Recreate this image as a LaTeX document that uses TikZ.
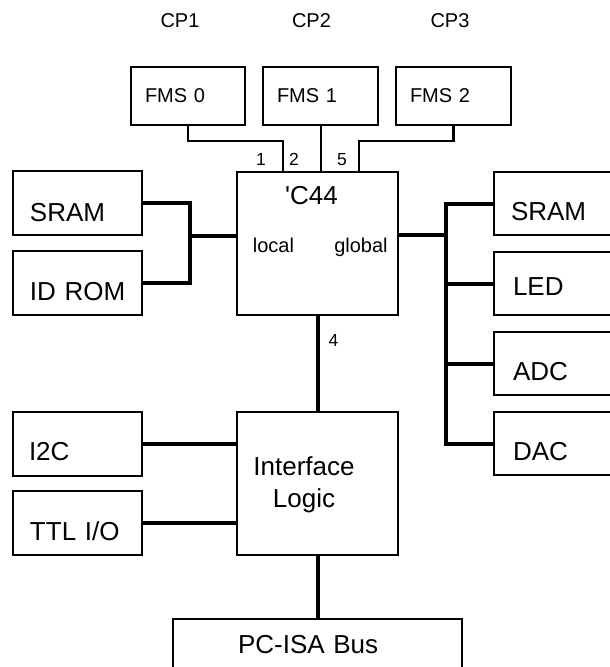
\documentclass[tikz,border=0pt]{standalone}
\usepackage{fontspec}
\setmainfont{Liberation Sans}
\begin{document}
\begin{tikzpicture}[x=1pt,y=-1pt,
  blk/.style={draw, line width=2pt, rectangle, anchor=north west, outer sep=0pt, inner ysep=0pt, text depth=0pt, align=left},
  big/.style={font=\fontsize{26}{32}\selectfont},
  small/.style={font=\fontsize{20}{24}\selectfont},
  tiny/.style={font=\fontsize{17.5}{21}\selectfont},
  bus/.style={line width=4pt},
  link/.style={line width=2.5pt},
  thinlink/.style={line width=2pt}]
\useasboundingbox (0,0) rectangle (610,667);
\clip (0,0) rectangle (610,667);

% top labels
\node[small,anchor=base] (cp1) at (180,27) {CP1};
\node[small,anchor=base] (cp2) at (311.5,27) {CP2};
\node[small,anchor=base] (cp3) at (450,27) {CP3};

% FMS boxes
\node[blk,small,minimum width=114pt,minimum height=58pt,inner xsep=14pt,text width=86pt,text height=12pt] (f0) at (131,67) {\mbox{FMS 0}};
\node[blk,small,minimum width=115pt,minimum height=58pt,inner xsep=14pt,text width=87pt,text height=12pt] (f1) at (263,67) {\mbox{FMS 1}};
\node[blk,small,minimum width=115pt,minimum height=58pt,inner xsep=14pt,text width=87pt,text height=12pt] (f2) at (396,67) {\mbox{FMS 2}};

% central boxes
\node[blk,minimum width=161pt,minimum height=143pt] (c44) at (237,172) {};
\node[blk,minimum width=161pt,minimum height=143pt] (iface) at (237,412) {};
\node[blk,big,minimum width=289pt,minimum height=50pt,inner xsep=65pt,text width=159pt,text height=18pt] (pcisa) at (173,619) {\mbox{PC-ISA Bus}};

% texts inside central boxes
\node[big,anchor=base] (c44t) at (311.5,204) {\textquotesingle C44};
\node[small,anchor=base] (loc) at (273.5,252) {local};
\node[small,anchor=base] (glob) at (361,252) {global};
\node[big,align=center] (ift) at (304,485) {Interface\\Logic};

% left boxes
\node[blk,big,minimum width=129pt,minimum height=64pt,inner xsep=17pt,text width=95pt,text height=36pt] (sraml) at (13,171) {\mbox{SRAM}};
\node[blk,big,minimum width=129pt,minimum height=64pt,inner xsep=17pt,text width=95pt,text height=34pt] (idrom) at (13,251) {\mbox{ID ROM}};
\node[blk,big,minimum width=129pt,minimum height=64pt,inner xsep=16pt,text width=97pt,text height=32pt] (i2c) at (13,412) {\mbox{I2C}};
\node[blk,big,minimum width=129pt,minimum height=64pt,inner xsep=17pt,text width=95pt,text height=34pt] (ttl) at (13,491) {\mbox{TTL I/O}};

% right boxes (cut by the picture edge)
\node[blk,big,minimum width=140pt,minimum height=63pt,inner xsep=17pt,text width=106pt,text height=33pt] (sramr) at (494,172) {\mbox{SRAM}};
\node[blk,big,minimum width=140pt,minimum height=63pt,inner xsep=19pt,text width=102pt,text height=23pt] (led) at (494,252) {\mbox{LED}};
\node[blk,big,minimum width=140pt,minimum height=63pt,inner xsep=19pt,text width=102pt,text height=33pt] (adc) at (494,332) {\mbox{ADC}};
\node[blk,big,minimum width=140pt,minimum height=63pt,inner xsep=19pt,text width=102pt,text height=33pt] (dac) at (494,412) {\mbox{DAC}};

% port numbers
\node[tiny,anchor=base] (n1) at (261,165) {1};
\node[tiny,anchor=base] (n2) at (294,165) {2};
\node[tiny,anchor=base] (n5) at (342,165) {5};
\node[tiny,anchor=base] (n4) at (333.5,346) {4};

% FMS connectors
\draw[link] (f0.south) -- ++(0,16) -| ([xshift=46pt]c44.north west);
\draw[thinlink] (f1.south) -- (f1.south |- c44.north);
\draw[link] (f2.south) -- ++(0,16) -| ([xshift=-39pt]c44.north east);

% local bus
\coordinate (lbus) at (190,236);
\draw[bus] (sraml.east) -| (lbus) |- (idrom.east);
\draw[bus] (lbus) -- (lbus -| c44.west);

% global bus
\coordinate (rbus) at (446,235);
\draw[bus] (sramr.west) -| (dac.west -| rbus) -- (dac.west);
\draw[bus] (rbus) -- (rbus -| c44.east);
\draw[bus] (led.west) -- (led.west -| rbus);
\draw[bus] (adc.west) -- (adc.west -| rbus);

% vertical links
\draw[bus] (c44.south) -- (iface.north);
\draw[bus] (iface.south) -- (pcisa.north);
\draw[bus] (i2c.east) -- (i2c.east -| iface.west);
\draw[bus] (ttl.east) -- (ttl.east -| iface.west);
\end{tikzpicture}
\end{document}
